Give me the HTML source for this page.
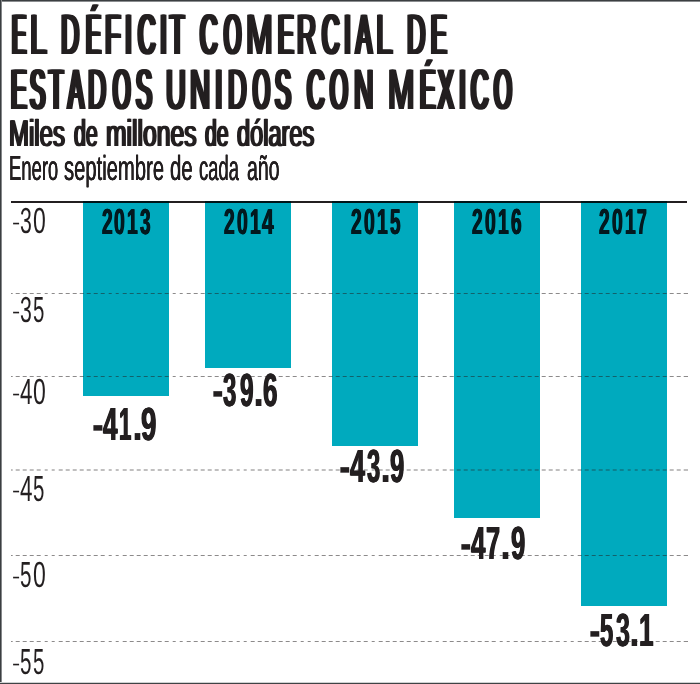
<!DOCTYPE html>
<html lang="es"><head><meta charset="utf-8"><title>El déficit comercial de Estados Unidos con México</title>
<style>
html,body{margin:0;padding:0;background:#fff;}
body{width:700px;height:684px;position:relative;overflow:hidden;font-family:"Liberation Sans",sans-serif;color:#231f20;}
.bd{position:absolute;background:#3f4547;}
.bar{position:absolute;top:200.6px;background:#00aabe;}
.axis{position:absolute;left:11px;top:200.8px;width:676.2px;height:1.8px;background:#231f20;mix-blend-mode:multiply;}
.grid{position:absolute;left:11px;width:676.5px;height:1px;
 background:repeating-linear-gradient(90deg,rgba(35,31,32,.52) 0,rgba(35,31,32,.52) 3.8px,transparent 3.8px,transparent 7.11px);background-position-x:-2.3px;}
.t{position:absolute;white-space:nowrap;line-height:1;transform-origin:0 0;font-weight:normal;text-rendering:geometricPrecision;}
.h{position:absolute;left:0;width:700px;height:0;font-size:57.1px;line-height:1;white-space:nowrap;text-rendering:geometricPrecision;}
.h span span,.v span{position:absolute;top:0;transform-origin:0 0;}
.v{position:absolute;left:0;width:700px;height:0;font-size:46.6px;line-height:1;white-space:nowrap;text-rendering:geometricPrecision;}
.v{font-weight:bold;}
.yr{color:#03191f;font-size:36.0px;}
.ax{font-weight:normal;font-size:36.3px;}
</style></head><body>
<div class="bd" style="left:0;top:0;width:700px;height:2px;background:linear-gradient(#3b3f41 0,#3b3f41 1px,#8a8d8f 1px,#8a8d8f 2px)"></div>
<div class="bd" style="left:0;top:0;width:2px;height:684px;background:linear-gradient(90deg,#3b3f41 0,#3b3f41 1px,#85888a 1px,#85888a 2px)"></div>
<div class="bd" style="left:0;top:682px;width:700px;height:2px;background:linear-gradient(#cfd1d2 0,#cfd1d2 1px,#3f4345 1px,#3f4345 2px)"></div>
<div class="bar" style="left:83.1px;width:86.3px;height:195.3px"></div>
<div class="bar" style="left:205.3px;width:86.1px;height:167.0px"></div>
<div class="bar" style="left:332.1px;width:86.0px;height:245.2px"></div>
<div class="bar" style="left:454.1px;width:85.9px;height:317.2px"></div>
<div class="bar" style="left:581.2px;width:85.8px;height:405.9px"></div>
<div class="axis"></div>
<div class="grid" style="top:293px"></div>
<div class="grid" style="top:376px"></div>
<div class="grid" style="top:469px;height:2px;opacity:.55"></div>
<div class="grid" style="top:555px"></div>
<div class="grid" style="top:641px"></div>
<div class="h" style="top:7.40px"><span class="w"><span style="left:11.78px;transform:scaleX(0.3708);text-shadow:5.43px 0 0,2.71px 0 0,-2.71px 0 0,-5.43px 0 0">E</span><span style="left:30.48px;transform:scaleX(0.5340);text-shadow:2.96px 0 0,1.48px 0 0,-1.48px 0 0,-2.96px 0 0">L</span></span> <span class="w"><span style="left:60.95px;transform:scaleX(0.4422);text-shadow:4.12px 0 0,2.06px 0 0,-2.06px 0 0,-4.12px 0 0">D</span><span style="left:85.93px;transform:scaleX(0.3903);text-shadow:5.02px 0 0,2.51px 0 0,-2.51px 0 0,-5.02px 0 0">É</span><span style="left:105.18px;transform:scaleX(0.4517);text-shadow:3.98px 0 0,1.99px 0 0,-1.99px 0 0,-3.98px 0 0">F</span><span style="left:123.53px;transform:scaleX(0.5634);text-shadow:2.66px 0 0,1.33px 0 0,-1.33px 0 0,-2.66px 0 0">I</span><span style="left:137.66px;transform:scaleX(0.4216);text-shadow:4.45px 0 0,2.23px 0 0,-2.23px 0 0,-4.45px 0 0">C</span><span style="left:159.03px;transform:scaleX(0.5634);text-shadow:2.66px 0 0,1.33px 0 0,-1.33px 0 0,-2.66px 0 0">I</span><span style="left:170.39px;transform:scaleX(0.4080);text-shadow:4.69px 0 0,2.35px 0 0,-2.35px 0 0,-4.69px 0 0">T</span></span> <span class="w"><span style="left:200.16px;transform:scaleX(0.4216);text-shadow:4.45px 0 0,2.23px 0 0,-2.23px 0 0,-4.45px 0 0">C</span><span style="left:223.93px;transform:scaleX(0.3863);text-shadow:5.10px 0 0,2.55px 0 0,-2.55px 0 0,-5.10px 0 0">O</span><span style="left:246.37px;transform:scaleX(0.5628);text-shadow:2.67px 0 0,1.33px 0 0,-1.33px 0 0,-2.67px 0 0">M</span><span style="left:277.99px;transform:scaleX(0.4098);text-shadow:4.66px 0 0,2.33px 0 0,-2.33px 0 0,-4.66px 0 0">E</span><span style="left:297.41px;transform:scaleX(0.4619);text-shadow:3.83px 0 0,1.92px 0 0,-1.92px 0 0,-3.83px 0 0">R</span><span style="left:321.66px;transform:scaleX(0.4216);text-shadow:4.45px 0 0,2.23px 0 0,-2.23px 0 0,-4.45px 0 0">C</span><span style="left:342.53px;transform:scaleX(0.5634);text-shadow:2.66px 0 0,1.33px 0 0,-1.33px 0 0,-2.66px 0 0">I</span><span style="left:355.85px;transform:scaleX(0.4149);text-shadow:4.57px 0 0,2.28px 0 0,-2.28px 0 0,-4.57px 0 0">A</span><span style="left:376.11px;transform:scaleX(0.5289);text-shadow:3.01px 0 0,1.50px 0 0,-1.50px 0 0,-3.01px 0 0">L</span></span> <span class="w"><span style="left:406.53px;transform:scaleX(0.4457);text-shadow:4.07px 0 0,2.03px 0 0,-2.03px 0 0,-4.07px 0 0">D</span><span style="left:430.99px;transform:scaleX(0.4098);text-shadow:4.66px 0 0,2.33px 0 0,-2.33px 0 0,-4.66px 0 0">E</span></span></div>
<div class="h" style="top:62.10px"><span class="w"><span style="left:11.49px;transform:scaleX(0.4098);text-shadow:4.66px 0 0,2.33px 0 0,-2.33px 0 0,-4.66px 0 0">E</span><span style="left:30.40px;transform:scaleX(0.3993);text-shadow:4.85px 0 0,2.43px 0 0,-2.43px 0 0,-4.85px 0 0">S</span><span style="left:48.89px;transform:scaleX(0.4080);text-shadow:4.69px 0 0,2.35px 0 0,-2.35px 0 0,-4.69px 0 0">T</span><span style="left:67.85px;transform:scaleX(0.4149);text-shadow:4.57px 0 0,2.28px 0 0,-2.28px 0 0,-4.57px 0 0">A</span><span style="left:88.28px;transform:scaleX(0.4387);text-shadow:4.18px 0 0,2.09px 0 0,-2.09px 0 0,-4.18px 0 0">D</span><span style="left:112.89px;transform:scaleX(0.3922);text-shadow:4.99px 0 0,2.49px 0 0,-2.49px 0 0,-4.99px 0 0">O</span><span style="left:135.81px;transform:scaleX(0.4175);text-shadow:4.52px 0 0,2.26px 0 0,-2.26px 0 0,-4.52px 0 0">S</span></span> <span class="w"><span style="left:166.11px;transform:scaleX(0.4797);text-shadow:3.59px 0 0,1.80px 0 0,-1.80px 0 0,-3.59px 0 0">U</span><span style="left:190.41px;transform:scaleX(0.4893);text-shadow:3.47px 0 0,1.73px 0 0,-1.73px 0 0,-3.47px 0 0">N</span><span style="left:214.33px;transform:scaleX(0.6009);text-shadow:2.50px 0 0,1.25px 0 0,-1.25px 0 0,-2.50px 0 0">I</span><span style="left:227.90px;transform:scaleX(0.4492);text-shadow:4.02px 0 0,2.01px 0 0,-2.01px 0 0,-4.02px 0 0">D</span><span style="left:252.96px;transform:scaleX(0.3804);text-shadow:5.22px 0 0,2.61px 0 0,-2.61px 0 0,-5.22px 0 0">O</span><span style="left:275.31px;transform:scaleX(0.4175);text-shadow:4.52px 0 0,2.26px 0 0,-2.26px 0 0,-4.52px 0 0">S</span></span> <span class="w"><span style="left:306.66px;transform:scaleX(0.4216);text-shadow:4.45px 0 0,2.23px 0 0,-2.23px 0 0,-4.45px 0 0">C</span><span style="left:329.85px;transform:scaleX(0.4012);text-shadow:4.82px 0 0,2.41px 0 0,-2.41px 0 0,-4.82px 0 0">O</span><span style="left:353.54px;transform:scaleX(0.4704);text-shadow:3.71px 0 0,1.86px 0 0,-1.86px 0 0,-3.71px 0 0">N</span></span> <span class="w"><span style="left:387.91px;transform:scaleX(0.5567);text-shadow:2.73px 0 0,1.36px 0 0,-1.36px 0 0,-2.73px 0 0">M</span><span style="left:419.55px;transform:scaleX(0.4020);text-shadow:4.80px 0 0,2.40px 0 0,-2.40px 0 0,-4.80px 0 0">É</span><span style="left:437.87px;transform:scaleX(0.4128);text-shadow:4.60px 0 0,2.30px 0 0,-2.30px 0 0,-4.60px 0 0">X</span><span style="left:457.53px;transform:scaleX(0.5634);text-shadow:2.66px 0 0,1.33px 0 0,-1.33px 0 0,-2.66px 0 0">I</span><span style="left:470.66px;transform:scaleX(0.4216);text-shadow:4.45px 0 0,2.23px 0 0,-2.23px 0 0,-4.45px 0 0">C</span><span style="left:494.35px;transform:scaleX(0.4012);text-shadow:4.82px 0 0,2.41px 0 0,-2.41px 0 0,-4.82px 0 0">O</span></span></div>
<div class="t s1" style="left:9.18px;top:114.70px;font-size:37.5px;transform:scaleX(0.6391);text-shadow:1.49px 0 0 #231f20,-1.49px 0 0 #231f20;">Miles</div>
<div class="t s1" style="left:73.95px;top:114.70px;font-size:37.5px;transform:scaleX(0.5692);text-shadow:1.67px 0 0 #231f20,-1.67px 0 0 #231f20;">de</div>
<div class="t s1" style="left:105.61px;top:114.70px;font-size:37.5px;transform:scaleX(0.6581);text-shadow:1.44px 0 0 #231f20,-1.44px 0 0 #231f20;">millones</div>
<div class="t s1" style="left:204.96px;top:114.70px;font-size:37.5px;transform:scaleX(0.5640);text-shadow:1.68px 0 0 #231f20,-1.68px 0 0 #231f20;">de</div>
<div class="t s1" style="left:236.76px;top:114.70px;font-size:37.5px;transform:scaleX(0.6280);text-shadow:1.51px 0 0 #231f20,-1.51px 0 0 #231f20;">dólares</div>
<div class="t s2" style="left:8.84px;top:150.80px;font-size:35px;transform:scaleX(0.5266);text-shadow:0.28px 0 0 #231f20,-0.28px 0 0 #231f20;">Enero</div>
<div class="t s2" style="left:64.29px;top:150.80px;font-size:35px;transform:scaleX(0.5779);text-shadow:0.26px 0 0 #231f20,-0.26px 0 0 #231f20;">septiembre</div>
<div class="t s2" style="left:169.99px;top:150.80px;font-size:35px;transform:scaleX(0.5820);text-shadow:0.26px 0 0 #231f20,-0.26px 0 0 #231f20;">de</div>
<div class="t s2" style="left:198.57px;top:150.80px;font-size:35px;transform:scaleX(0.5267);text-shadow:0.28px 0 0 #231f20,-0.28px 0 0 #231f20;">cada</div>
<div class="t s2" style="left:246.62px;top:150.80px;font-size:35px;transform:scaleX(0.5573);text-shadow:0.27px 0 0 #231f20,-0.27px 0 0 #231f20;">año</div>
<div class="v ax" style="top:203.15px"><span style="left:12.41px;top:10.10px;font-size:20.5px;transform:scaleX(1.1988)">-</span><span style="left:20.29px;transform:scaleX(0.5868)">3</span><span style="left:32.50px;transform:scaleX(0.6339)">0</span></div>
<div class="v ax" style="top:292.05px"><span style="left:12.41px;top:10.10px;font-size:20.5px;transform:scaleX(1.1988)">-</span><span style="left:20.29px;transform:scaleX(0.5868)">3</span><span style="left:33.18px;transform:scaleX(0.5636)">5</span></div>
<div class="v ax" style="top:374.25px"><span style="left:12.41px;top:10.10px;font-size:20.5px;transform:scaleX(1.1988)">-</span><span style="left:20.29px;transform:scaleX(0.6178)">4</span><span style="left:32.50px;transform:scaleX(0.6339)">0</span></div>
<div class="v ax" style="top:471.15px"><span style="left:12.41px;top:10.10px;font-size:20.5px;transform:scaleX(1.1988)">-</span><span style="left:20.29px;transform:scaleX(0.6178)">4</span><span style="left:33.18px;transform:scaleX(0.5636)">5</span></div>
<div class="v ax" style="top:556.95px"><span style="left:12.41px;top:10.10px;font-size:20.5px;transform:scaleX(1.1988)">-</span><span style="left:20.47px;transform:scaleX(0.5694)">5</span><span style="left:32.50px;transform:scaleX(0.6339)">0</span></div>
<div class="v ax" style="top:643.55px"><span style="left:12.41px;top:10.10px;font-size:20.5px;transform:scaleX(1.1988)">-</span><span style="left:20.47px;transform:scaleX(0.5694)">5</span><span style="left:33.18px;transform:scaleX(0.5636)">5</span></div>
<div class="v yr" style="top:204.05px"><span style="left:101.54px;transform:scaleX(0.5308);text-shadow:0.75px 0 0,-0.75px 0 0">2</span><span style="left:114.43px;transform:scaleX(0.5373);text-shadow:0.74px 0 0,-0.74px 0 0">0</span><span style="left:127.49px;transform:scaleX(0.5330);text-shadow:0.75px 0 0,-0.75px 0 0">1</span><span style="left:139.97px;transform:scaleX(0.5253);text-shadow:0.76px 0 0,-0.76px 0 0">3</span></div>
<div class="v yr" style="top:204.05px"><span style="left:223.84px;transform:scaleX(0.5308);text-shadow:0.75px 0 0,-0.75px 0 0">2</span><span style="left:236.73px;transform:scaleX(0.5373);text-shadow:0.74px 0 0,-0.74px 0 0">0</span><span style="left:249.79px;transform:scaleX(0.5330);text-shadow:0.75px 0 0,-0.75px 0 0">1</span><span style="left:261.68px;transform:scaleX(0.5808);text-shadow:0.69px 0 0,-0.69px 0 0">4</span></div>
<div class="v yr" style="top:204.05px"><span style="left:351.24px;transform:scaleX(0.5308);text-shadow:0.75px 0 0,-0.75px 0 0">2</span><span style="left:364.13px;transform:scaleX(0.5373);text-shadow:0.74px 0 0,-0.74px 0 0">0</span><span style="left:377.19px;transform:scaleX(0.5330);text-shadow:0.75px 0 0,-0.75px 0 0">1</span><span style="left:389.62px;transform:scaleX(0.5248);text-shadow:0.76px 0 0,-0.76px 0 0">5</span></div>
<div class="v yr" style="top:204.05px"><span style="left:472.44px;transform:scaleX(0.5308);text-shadow:0.75px 0 0,-0.75px 0 0">2</span><span style="left:485.33px;transform:scaleX(0.5373);text-shadow:0.74px 0 0,-0.74px 0 0">0</span><span style="left:498.39px;transform:scaleX(0.5330);text-shadow:0.75px 0 0,-0.75px 0 0">1</span><span style="left:510.60px;transform:scaleX(0.5287);text-shadow:0.76px 0 0,-0.76px 0 0">6</span></div>
<div class="v yr" style="top:204.05px"><span style="left:598.94px;transform:scaleX(0.5308);text-shadow:0.75px 0 0,-0.75px 0 0">2</span><span style="left:611.83px;transform:scaleX(0.5373);text-shadow:0.74px 0 0,-0.74px 0 0">0</span><span style="left:624.89px;transform:scaleX(0.5330);text-shadow:0.75px 0 0,-0.75px 0 0">1</span><span style="left:637.05px;transform:scaleX(0.4854);text-shadow:0.82px 0 0,-0.82px 0 0">7</span></div>
<div class="v" style="top:401.44px"><span style="left:91.52px;transform:scaleX(0.7606)">-</span><span style="left:103.00px;transform:scaleX(0.5609);text-shadow:0.89px 0 0,-0.89px 0 0">4</span><span style="left:119.48px;transform:scaleX(0.4757);text-shadow:1.05px 0 0,-1.05px 0 0">1</span><span style="left:131.91px;transform:scaleX(0.8516)">.</span><span style="left:141.24px;transform:scaleX(0.5937);text-shadow:0.84px 0 0,-0.84px 0 0">9</span></div>
<div class="v" style="top:366.64px"><span style="left:212.25px;transform:scaleX(0.7437)">-</span><span style="left:223.35px;transform:scaleX(0.5137);text-shadow:0.97px 0 0,-0.97px 0 0">3</span><span style="left:239.56px;transform:scaleX(0.5228);text-shadow:0.96px 0 0,-0.96px 0 0">9</span><span style="left:252.56px;transform:scaleX(0.8668)">.</span><span style="left:263.05px;transform:scaleX(0.5593);text-shadow:0.89px 0 0,-0.89px 0 0">6</span></div>
<div class="v" style="top:443.14px"><span style="left:338.75px;transform:scaleX(0.7437)">-</span><span style="left:349.99px;transform:scaleX(0.5769);text-shadow:0.87px 0 0,-0.87px 0 0">4</span><span style="left:366.86px;transform:scaleX(0.5094);text-shadow:0.98px 0 0,-0.98px 0 0">3</span><span style="left:380.06px;transform:scaleX(0.8668)">.</span><span style="left:390.11px;transform:scaleX(0.5494);text-shadow:0.91px 0 0,-0.91px 0 0">9</span></div>
<div class="v" style="top:520.24px"><span style="left:459.75px;transform:scaleX(0.7437)">-</span><span style="left:471.01px;transform:scaleX(0.5569);text-shadow:0.90px 0 0,-0.90px 0 0">4</span><span style="left:486.21px;transform:scaleX(0.5442);text-shadow:0.92px 0 0,-0.92px 0 0">7</span><span style="left:500.11px;transform:scaleX(0.8516)">.</span><span style="left:510.61px;transform:scaleX(0.5494);text-shadow:0.91px 0 0,-0.91px 0 0">9</span></div>
<div class="v" style="top:607.14px"><span style="left:588.63px;transform:scaleX(0.7522)">-</span><span style="left:600.27px;transform:scaleX(0.5089);text-shadow:0.98px 0 0,-0.98px 0 0">5</span><span style="left:615.83px;transform:scaleX(0.5353);text-shadow:0.93px 0 0,-0.93px 0 0">3</span><span style="left:629.15px;transform:scaleX(0.8364)">.</span><span style="left:639.11px;transform:scaleX(0.5609);text-shadow:0.89px 0 0,-0.89px 0 0">1</span></div>
</body></html>
